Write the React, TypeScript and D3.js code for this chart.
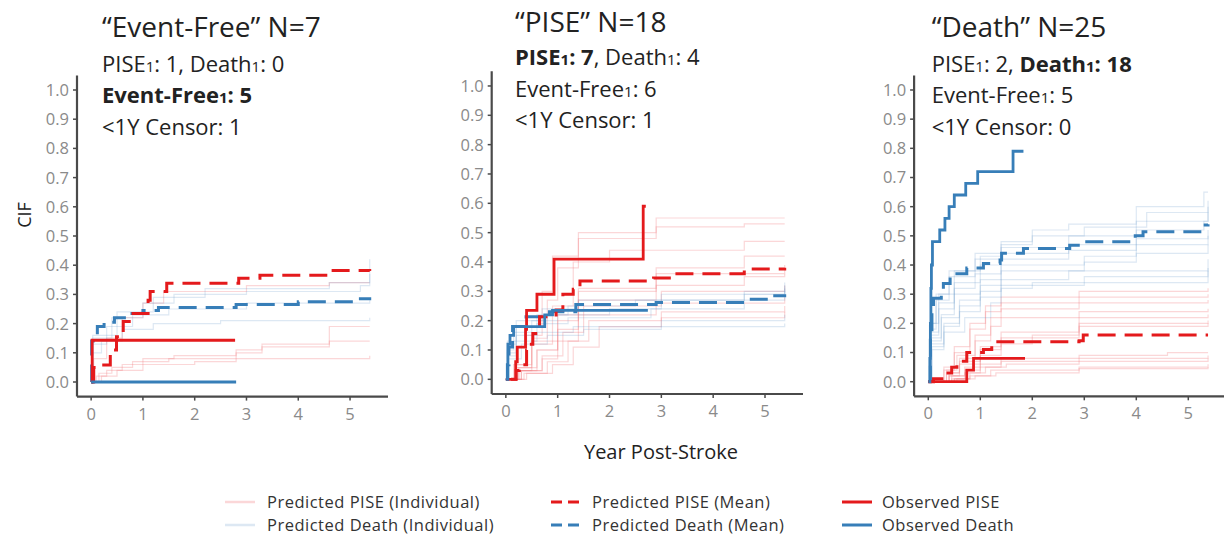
import React from "react";
import * as d3 from "d3";

type Pt = [number, number];
type Seg = [string, string]; // text, style: n | b | s | bs

// ---------- tick labels ----------
const xTicks = [0, 1, 2, 3, 4, 5];
const yTicks = [0, 0.1, 0.2, 0.3, 0.4, 0.5, 0.6, 0.7, 0.8, 0.9, 1.0];
const yTickLabels = ["0.0", "0.1", "0.2", "0.3", "0.4", "0.5", "0.6", "0.7", "0.8", "0.9", "1.0"];

// ---------- panel titles ----------
const panelTitles = ["\u201CEvent-Free\u201D N=7", "\u201CPISE\u201D N=18", "\u201CDeath\u201D N=25"];
const panelNotes: Seg[][][] = [
  [
    [["PISE", "n"], ["1", "s"], [": 1, Death", "n"], ["1", "s"], [": 0", "n"]],
    [["Event-Free", "b"], ["1", "bs"], [": 5", "b"]],
    [["<1Y Censor: 1", "n"]],
  ],
  [
    [["PISE", "b"], ["1", "bs"], [": 7", "b"], [", Death", "n"], ["1", "s"], [": 4", "n"]],
    [["Event-Free", "n"], ["1", "s"], [": 6", "n"]],
    [["<1Y Censor: 1", "n"]],
  ],
  [
    [["PISE", "n"], ["1", "s"], [": 2, ", "n"], ["Death", "b"], ["1", "bs"], [": 18", "b"]],
    [["Event-Free", "n"], ["1", "s"], [": 5", "n"]],
    [["<1Y Censor: 0", "n"]],
  ],
];

// ---------- Panel 1: "Event-Free" ----------
const p1IndivPise: Pt[][] = [
  [[0, 0], [0.1, 0.02], [0.3, 0.04], [0.6, 0.06], [1.0, 0.08], [1.6, 0.09], [2.8, 0.11], [3.3, 0.13], [4.6, 0.19], [5.38, 0.19]],
  [[0, 0], [0.15, 0.03], [0.4, 0.05], [0.8, 0.07], [1.5, 0.08], [2.8, 0.1], [3.3, 0.12], [4.6, 0.14], [5.38, 0.14]],
  [[0, 0], [0.2, 0.02], [0.5, 0.04], [1.0, 0.06], [2.0, 0.07], [2.8, 0.08], [5.38, 0.09]],
  [[0, 0], [0.05, 0.08], [0.3, 0.15], [0.6, 0.22], [1.0, 0.27], [1.4, 0.31], [3.0, 0.33], [4.6, 0.34], [5.38, 0.34]],
];
const p1IndivDeath: Pt[][] = [
  [[0, 0], [0.03, 0.1], [0.2, 0.14], [0.6, 0.18], [1.2, 0.2], [2.5, 0.21], [5.38, 0.22]],
  [[0, 0], [0.03, 0.13], [0.3, 0.19], [0.8, 0.23], [1.5, 0.25], [3.0, 0.27], [5.38, 0.28]],
  [[0, 0], [0.03, 0.15], [0.4, 0.22], [1.0, 0.27], [1.6, 0.3], [3.0, 0.31], [5.2, 0.33], [5.38, 0.42]],
  [[0, 0], [0.03, 0.16], [0.5, 0.24], [1.2, 0.29], [2.2, 0.32], [4.6, 0.34], [5.38, 0.37]],
];
const p1MeanPise: Pt[] = [[0.02, 0], [0.05, 0.05], [0.14, 0.058], [0.37, 0.11], [0.49, 0.155], [0.62, 0.207], [0.81, 0.235], [1.1, 0.28], [1.14, 0.31], [1.46, 0.338], [2.85, 0.355], [3.26, 0.366], [4.58, 0.382], [5.38, 0.38]];
const p1MeanDeath: Pt[] = [[0, 0], [0.01, 0.14], [0.04, 0.16], [0.12, 0.19], [0.25, 0.205], [0.45, 0.22], [0.7, 0.235], [1.0, 0.245], [1.3, 0.255], [2.8, 0.265], [4.0, 0.275], [5.2, 0.285], [5.38, 0.29]];
const p1ObsPise: Pt[] = [[0, 0], [0.02, 0.143], [2.78, 0.143]];
const p1ObsDeath: Pt[] = [[0, 0], [2.8, 0]];

// ---------- Panel 2: "PISE" ----------
const p2IndivPise: Pt[][] = [
  [[0, 0], [0.15, 0.05], [0.4, 0.15], [0.7, 0.3], [0.9, 0.42], [1.4, 0.5], [2.9, 0.55], [5.38, 0.55]],
  [[0, 0], [0.2, 0.04], [0.5, 0.14], [0.8, 0.27], [1.0, 0.38], [1.4, 0.48], [2.9, 0.52], [4.6, 0.53], [5.38, 0.53]],
  [[0, 0], [0.2, 0.03], [0.5, 0.12], [0.9, 0.25], [1.3, 0.4], [2.0, 0.44], [4.6, 0.47], [5.38, 0.47]],
  [[0, 0], [0.25, 0.03], [0.6, 0.1], [1.0, 0.2], [1.4, 0.3], [2.9, 0.38], [4.6, 0.42], [5.38, 0.42]],
  [[0, 0], [0.2, 0.05], [0.5, 0.13], [1.0, 0.22], [1.4, 0.31], [2.9, 0.36], [5.38, 0.39]],
  [[0, 0], [0.25, 0.04], [0.6, 0.1], [1.0, 0.17], [1.4, 0.27], [2.9, 0.32], [4.6, 0.35], [5.38, 0.36]],
  [[0, 0], [0.3, 0.03], [0.7, 0.08], [1.1, 0.16], [1.5, 0.25], [3.0, 0.3], [5.38, 0.32]],
  [[0, 0], [0.3, 0.03], [0.7, 0.07], [1.0, 0.13], [1.4, 0.22], [2.9, 0.26], [5.38, 0.28]],
  [[0, 0], [0.35, 0.02], [0.8, 0.06], [1.2, 0.13], [1.6, 0.2], [3.0, 0.23], [5.38, 0.25]],
  [[0, 0], [0.4, 0.02], [0.9, 0.05], [1.3, 0.11], [1.8, 0.18], [3.0, 0.21], [5.38, 0.23]],
];
const p2IndivDeath: Pt[][] = [
  [[0, 0], [0.03, 0.1], [0.15, 0.16], [0.5, 0.2], [1.0, 0.22], [2.0, 0.24], [3.0, 0.27], [4.6, 0.3], [5.38, 0.33]],
  [[0, 0], [0.03, 0.09], [0.2, 0.15], [0.6, 0.19], [1.2, 0.21], [2.8, 0.24], [4.6, 0.27], [5.38, 0.3]],
  [[0, 0], [0.04, 0.08], [0.2, 0.13], [0.6, 0.16], [1.3, 0.18], [3.0, 0.2], [5.38, 0.22]],
  [[0, 0], [0.03, 0.12], [0.2, 0.18], [0.6, 0.22], [1.2, 0.25], [2.5, 0.27], [4.6, 0.29], [5.38, 0.31]],
  [[0, 0], [0.05, 0.07], [0.3, 0.12], [0.8, 0.15], [1.5, 0.17], [3.0, 0.18], [5.38, 0.19]],
  [[0, 0], [0.03, 0.13], [0.2, 0.2], [0.7, 0.24], [1.4, 0.27], [3.0, 0.29], [5.38, 0.32]],
];
const p2MeanPise: Pt[] = [[0.1, 0], [0.2, 0.03], [0.26, 0.05], [0.4, 0.1], [0.45, 0.12], [0.52, 0.156], [0.65, 0.213], [0.97, 0.236], [1.1, 0.29], [1.3, 0.307], [1.43, 0.335], [2.85, 0.345], [3.2, 0.36], [4.6, 0.376], [5.38, 0.38]];
const p2MeanDeath: Pt[] = [[0, 0], [0.03, 0.05], [0.06, 0.11], [0.13, 0.18], [0.39, 0.213], [0.84, 0.23], [1.35, 0.255], [2.9, 0.262], [4.6, 0.273], [5.1, 0.285], [5.38, 0.29]];
const p2ObsPise: Pt[] = [[0, 0], [0.19, 0.06], [0.22, 0.11], [0.38, 0.17], [0.4, 0.235], [0.6, 0.29], [0.93, 0.41], [2.65, 0.59], [2.7, 0.59]];
const p2ObsDeath: Pt[] = [[0, 0], [0.04, 0.12], [0.08, 0.15], [0.15, 0.18], [0.75, 0.22], [0.9, 0.235], [2.74, 0.235]];

// ---------- Panel 3: "Death" ----------
const p3IndivPise: Pt[][] = [
  [[0, 0], [0.3, 0.05], [0.5, 0.12], [0.8, 0.2], [1.1, 0.26], [1.4, 0.29], [2.9, 0.31], [5.38, 0.32]],
  [[0, 0], [0.3, 0.04], [0.5, 0.1], [0.8, 0.18], [1.1, 0.24], [1.4, 0.27], [2.9, 0.29], [5.38, 0.3]],
  [[0, 0], [0.35, 0.04], [0.55, 0.09], [0.9, 0.16], [1.2, 0.22], [1.4, 0.25], [2.9, 0.27], [5.38, 0.28]],
  [[0, 0], [0.35, 0.03], [0.6, 0.08], [0.9, 0.14], [1.2, 0.19], [1.4, 0.22], [2.9, 0.24], [5.38, 0.25]],
  [[0, 0], [0.4, 0.03], [0.6, 0.07], [1.0, 0.12], [1.4, 0.17], [2.9, 0.22], [5.38, 0.23]],
  [[0, 0], [0.4, 0.02], [0.6, 0.06], [1.0, 0.11], [1.4, 0.15], [2.9, 0.2], [5.38, 0.21]],
  [[0, 0], [0.45, 0.02], [0.7, 0.05], [1.0, 0.09], [1.4, 0.13], [2.0, 0.16], [2.9, 0.19], [5.38, 0.2]],
  [[0, 0], [0.4, 0.02], [0.7, 0.04], [1.0, 0.06], [1.4, 0.08], [2.9, 0.09], [4.6, 0.1], [5.38, 0.1]],
  [[0, 0], [0.45, 0.01], [0.7, 0.03], [1.0, 0.05], [1.4, 0.07], [2.9, 0.08], [5.38, 0.09]],
  [[0, 0], [0.5, 0.01], [0.8, 0.03], [1.1, 0.05], [1.5, 0.06], [2.9, 0.07], [5.38, 0.08]],
  [[0, 0], [0.5, 0.01], [0.8, 0.02], [1.2, 0.04], [2.9, 0.05], [5.38, 0.06]],
  [[0, 0], [0.55, 0.01], [0.9, 0.02], [1.3, 0.03], [2.9, 0.045], [5.38, 0.05]],
];
const p3IndivDeath: Pt[][] = [
  [[0, 0], [0.05, 0.2], [0.15, 0.3], [0.4, 0.38], [0.9, 0.44], [1.4, 0.48], [2.0, 0.52], [2.7, 0.54], [4.0, 0.6], [5.3, 0.65], [5.38, 0.65]],
  [[0, 0], [0.05, 0.18], [0.15, 0.28], [0.4, 0.36], [0.9, 0.42], [1.4, 0.47], [2.0, 0.5], [3.0, 0.53], [4.2, 0.58], [5.38, 0.62]],
  [[0, 0], [0.05, 0.2], [0.2, 0.3], [0.5, 0.38], [1.0, 0.43], [1.4, 0.46], [2.7, 0.5], [4.0, 0.55], [5.38, 0.58]],
  [[0, 0], [0.05, 0.17], [0.2, 0.27], [0.5, 0.34], [1.0, 0.4], [1.4, 0.44], [2.7, 0.47], [4.0, 0.52], [5.3, 0.55], [5.38, 0.6]],
  [[0, 0], [0.05, 0.16], [0.2, 0.25], [0.5, 0.32], [0.9, 0.37], [1.4, 0.42], [2.7, 0.45], [4.0, 0.49], [5.38, 0.52]],
  [[0, 0], [0.06, 0.15], [0.25, 0.23], [0.5, 0.3], [1.0, 0.35], [1.4, 0.4], [3.0, 0.43], [4.0, 0.47], [5.38, 0.5]],
  [[0, 0], [0.06, 0.14], [0.25, 0.22], [0.6, 0.28], [1.0, 0.33], [1.4, 0.38], [3.0, 0.41], [4.0, 0.44], [5.38, 0.47]],
  [[0, 0], [0.06, 0.13], [0.3, 0.2], [0.6, 0.26], [1.0, 0.31], [1.4, 0.35], [2.7, 0.38], [5.38, 0.42]],
  [[0, 0], [0.07, 0.12], [0.3, 0.19], [0.6, 0.24], [1.0, 0.29], [1.4, 0.33], [3.0, 0.36], [5.38, 0.39]],
  [[0, 0], [0.07, 0.11], [0.3, 0.17], [0.7, 0.22], [1.2, 0.27], [1.4, 0.32], [2.0, 0.34], [5.38, 0.38]],
];
const p3MeanPise: Pt[] = [[0, 0], [0.1, 0.01], [0.3, 0.03], [0.45, 0.05], [0.55, 0.07], [0.74, 0.1], [1.06, 0.11], [1.22, 0.137], [2.9, 0.14], [2.98, 0.16], [5.38, 0.16]];
const p3MeanDeath: Pt[] = [[0, 0], [0.04, 0.15], [0.07, 0.25], [0.1, 0.286], [0.25, 0.31], [0.29, 0.337], [0.42, 0.36], [0.55, 0.37], [0.74, 0.39], [1.06, 0.405], [1.38, 0.417], [1.41, 0.44], [1.83, 0.457], [2.72, 0.468], [2.92, 0.48], [3.98, 0.5], [4.13, 0.514], [5.29, 0.537], [5.38, 0.54]];
const p3ObsPise: Pt[] = [[0, 0], [0.74, 0.04], [0.87, 0.08], [1.86, 0.08]];
const p3ObsDeath: Pt[] = [[0, 0], [0.03, 0.08], [0.04, 0.2], [0.05, 0.32], [0.06, 0.4], [0.08, 0.48], [0.22, 0.52], [0.32, 0.56], [0.4, 0.6], [0.5, 0.64], [0.72, 0.68], [0.95, 0.72], [1.63, 0.79], [1.83, 0.79]];

// ---------- legend ----------
const legendLabels = [
  ["Predicted PISE (Individual)", "Predicted Death (Individual)"],
  ["Predicted PISE (Mean)", "Predicted Death (Mean)"],
  ["Observed PISE", "Observed Death"],
];

const xLabel = "Year Post-Stroke";
const yLabel = "CIF";

// ---------- styles ----------
const RED = "#E41A1C";
const BLUE = "#377EB8";
const LIGHT_RED = "rgba(240,110,115,0.28)";
const LIGHT_BLUE = "rgba(100,150,200,0.22)";
const FONT = "'Open Sans', 'Noto Sans', sans-serif";

const panels = [
  {
    indivPise: p1IndivPise, indivDeath: p1IndivDeath, meanPise: p1MeanPise, meanDeath: p1MeanDeath, obsPise: p1ObsPise, obsDeath: p1ObsDeath,
    left: 77, right: 388, top: 75.4, bottom: 396.6, tx: 102, ty: 37, ny: [72, 103, 135],
  },
  {
    indivPise: p2IndivPise, indivDeath: p2IndivDeath, meanPise: p2MeanPise, meanDeath: p2MeanDeath, obsPise: p2ObsPise, obsDeath: p2ObsDeath,
    left: 491.7, right: 803, top: 71.3, bottom: 394, tx: 515, ty: 32, ny: [65, 97, 128],
  },
  {
    indivPise: p3IndivPise, indivDeath: p3IndivDeath, meanPise: p3MeanPise, meanDeath: p3MeanDeath, obsPise: p3ObsPise, obsDeath: p3ObsDeath,
    left: 914.1, right: 1226.4, top: 75.4, bottom: 396.3, tx: 931.7, ty: 37, ny: [72, 103, 135],
  },
];

function Panel({ p, idx }: { p: any; idx: number }) {
  const x = d3.scaleLinear().domain([-0.273, 5.733]).range([p.left, p.right]);
  const y = d3.scaleLinear().domain([-0.05, 1.05]).range([p.bottom, p.top]);
  const line = d3
    .line<Pt>()
    .x((d) => x(d[0]))
    .y((d) => y(d[1]))
    .curve(d3.curveStepAfter);
  const dash = "18 9";
  return (
    <g>
      {p.indivPise.map((d: Pt[], i: number) => (
        <path key={"ip" + i} d={line(d) || ""} fill="none" stroke={LIGHT_RED} strokeWidth={1.2} />
      ))}
      {p.indivDeath.map((d: Pt[], i: number) => (
        <path key={"id" + i} d={line(d) || ""} fill="none" stroke={LIGHT_BLUE} strokeWidth={1.2} />
      ))}
      <path d={line(p.meanDeath) || ""} fill="none" stroke={BLUE} strokeWidth={3} strokeDasharray={dash} />
      <path d={line(p.meanPise) || ""} fill="none" stroke={RED} strokeWidth={3} strokeDasharray={dash} />
      <path d={line(p.obsPise) || ""} fill="none" stroke={RED} strokeWidth={2.8} />
      <path d={line(p.obsDeath) || ""} fill="none" stroke={BLUE} strokeWidth={2.8} />
      <line x1={p.left} x2={p.left} y1={p.top} y2={p.bottom} stroke="#4a4a4a" strokeWidth={2.2} />
      <line x1={p.left} x2={p.right} y1={p.bottom} y2={p.bottom} stroke="#4a4a4a" strokeWidth={2.2} />
      {yTicks.map((t, i) => (
        <g key={"yt" + i}>
          <line x1={p.left - 4} x2={p.left} y1={y(t)} y2={y(t)} stroke="#4a4a4a" strokeWidth={1.5} />
          <text x={p.left - 8} y={y(t)} dy="0.36em" textAnchor="end" fontSize={16.5} fill="#8a8a8a" fontFamily={FONT}>
            {yTickLabels[i]}
          </text>
        </g>
      ))}
      {xTicks.map((t) => (
        <g key={"xt" + t}>
          <line x1={x(t)} x2={x(t)} y1={p.bottom} y2={p.bottom + 4} stroke="#4a4a4a" strokeWidth={1.5} />
          <text x={x(t)} y={p.bottom + 17} dy="0.36em" textAnchor="middle" fontSize={16.5} fill="#8a8a8a" fontFamily={FONT}>
            {t}
          </text>
        </g>
      ))}
      <text x={p.tx} y={p.ty} fontSize={28} fill="#222" fontFamily={FONT}>
        {panelTitles[idx]}
      </text>
      {panelNotes[idx].map((segs, li) => (
        <text key={"n" + li} x={p.tx} y={p.ny[li]} fontSize={22} fill="#222" fontFamily={FONT}>
          {segs.map((s, si) => (
            <tspan
              key={si}
              fontWeight={s[1].includes("b") ? 700 : 400}
              fontSize={s[1].includes("s") ? 15 : 22}
            >
              {s[0]}
            </tspan>
          ))}
        </text>
      ))}
    </g>
  );
}

export default function App() {
  const legendCols = [
    { kx: 225, tx: 267 },
    { kx: 551, tx: 592 },
    { kx: 842, tx: 882 },
  ];
  const legendRows = [502, 525];
  const keyStyles = [
    [{ c: LIGHT_RED, d: undefined, w: 2.5 }, { c: LIGHT_BLUE, d: undefined, w: 2.5 }],
    [{ c: RED, d: "11 6", w: 3 }, { c: BLUE, d: "11 6", w: 3 }],
    [{ c: RED, d: undefined, w: 3 }, { c: BLUE, d: undefined, w: 3 }],
  ];
  return (
    <svg width={1224} height={538} style={{ position: "absolute", left: 0, top: 0, background: "#fff" }}>
      <rect x={0} y={0} width={1224} height={538} fill="#fff" />
      {panels.map((p, i) => (
        <Panel key={i} p={p} idx={i} />
      ))}
      <text transform="translate(31,215) rotate(-90)" textAnchor="middle" fontSize={18} fill="#222" fontFamily={FONT}>
        {yLabel}
      </text>
      <text x={661} y={459} textAnchor="middle" fontSize={20} fill="#222" fontFamily={FONT}>
        {xLabel}
      </text>
      {legendLabels.map((col, ci) =>
        col.map((lab, ri) => {
          const k = keyStyles[ci][ri];
          const yy = legendRows[ri];
          return (
            <g key={ci + "-" + ri}>
              <line
                x1={legendCols[ci].kx}
                x2={legendCols[ci].kx + 30}
                y1={yy}
                y2={yy}
                stroke={k.c}
                strokeWidth={k.w}
                strokeDasharray={k.d}
              />
              <text x={legendCols[ci].tx} y={yy} dy="0.36em" fontSize={16.5} letterSpacing={0.5} fill="#333" fontFamily={FONT}>
                {lab}
              </text>
            </g>
          );
        })
      )}
    </svg>
  );
}
